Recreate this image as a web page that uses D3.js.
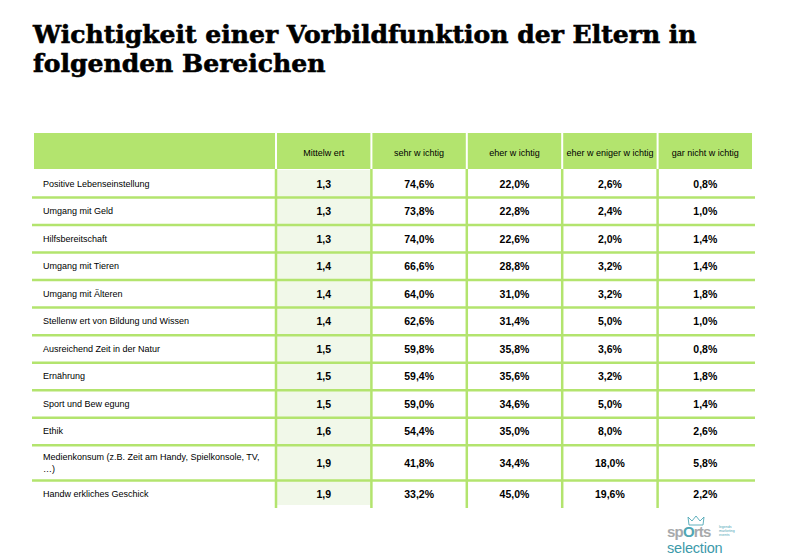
<!DOCTYPE html>
<html><head><meta charset="utf-8">
<script src="https://cdn.jsdelivr.net/npm/d3@7"></script>
<style>
html,body{margin:0;padding:0;background:#fff;}
svg{display:block;}
</style></head>
<body>
<svg id="chart" width="799" height="555"></svg>
<script>
// ---- data ----
const titleLines = ["Wichtigkeit einer Vorbildfunktion der Eltern in", "folgenden Bereichen"];
const columns = ["Mittelw ert", "sehr w ichtig", "eher w ichtig", "eher w eniger w ichtig", "gar nicht w ichtig"];
const categories = [
  "Positive Lebenseinstellung",
  "Umgang mit Geld",
  "Hilfsbereitschaft",
  "Umgang mit Tieren",
  "Umgang mit Älteren",
  "Stellenw ert von Bildung und Wissen",
  "Ausreichend Zeit in der Natur",
  "Ernährung",
  "Sport und Bew egung",
  "Ethik",
  "Medienkonsum (z.B. Zeit am Handy, Spielkonsole, TV,\n…)",
  "Handw erkliches Geschick"
];
const mittelwert   = [1.3, 1.3, 1.3, 1.4, 1.4, 1.4, 1.5, 1.5, 1.5, 1.6, 1.9, 1.9];
const sehrWichtig  = [74.6, 73.8, 74.0, 66.6, 64.0, 62.6, 59.8, 59.4, 59.0, 54.4, 41.8, 33.2];
const eherWichtig  = [22.0, 22.8, 22.6, 28.8, 31.0, 31.4, 35.8, 35.6, 34.6, 35.0, 34.4, 45.0];
const eherWeniger  = [2.6, 2.4, 2.0, 3.2, 3.2, 5.0, 3.6, 3.2, 5.0, 8.0, 18.0, 19.6];
const garNicht     = [0.8, 1.0, 1.4, 1.4, 1.8, 1.0, 0.8, 1.8, 1.4, 2.6, 5.8, 2.2];
const logoWords = ["legends", "marketing", "events"];

// ---- layout ----
const svg = d3.select("#chart");
const green = "#b3e46e";
const lightGreen = "#f1f8e9";
const fmt1 = v => v.toFixed(1).replace(".", ",");
const fmtPct = v => v.toFixed(1).replace(".", ",") + "%";

// title
const title = svg.append("g");
const tl = title.selectAll("text").data(titleLines).join("text")
  .attr("x", 33).attr("y", (d, i) => 43 + i * 28.5)
  .attr("font-family", "DejaVu Serif, Liberation Serif, serif")
  .attr("font-weight", "bold")
  .attr("font-size", 26)
  .attr("fill", "#000")
  .attr("stroke", "#000").attr("stroke-width", 0.6)
  .text(d => d);
const w0 = tl.nodes()[0].getComputedTextLength();
tl.attr("font-size", 26 * 664 / w0);

const tableLeft = 34, tableRight = 753, labelColRight = 276;
const headerTop = 133, headerBottom = 169, bodyTop = 170, bodyBottom = 508;

const x = d3.scaleBand().domain(columns).range([labelColRight, tableRight]).paddingInner(0).paddingOuter(0);

// rows: height units based on number of label lines
const rowLines = categories.map(c => c.split("\n").length);
const units = rowLines.map(n => 1 + 0.28 * (n - 1));
const cum = [0]; units.forEach(u => cum.push(cum[cum.length - 1] + u));
const y = d3.scaleLinear().domain([0, cum[cum.length - 1]]).range([bodyTop, bodyBottom]);

const rows = categories.map((c, i) => ({
  label: c, top: y(cum[i]), bottom: y(cum[i + 1]),
  vals: [fmt1(mittelwert[i]), fmtPct(sehrWichtig[i]), fmtPct(eherWichtig[i]), fmtPct(eherWeniger[i]), fmtPct(garNicht[i])]
}));

// header cells
const hdr = svg.append("g");
hdr.append("rect").attr("x", tableLeft).attr("y", headerTop)
  .attr("width", labelColRight - 1 - tableLeft).attr("height", headerBottom - headerTop).attr("fill", green);
hdr.selectAll("rect.h").data(columns).join("rect").attr("class", "h")
  .attr("x", d => x(d) + 1).attr("y", headerTop)
  .attr("width", d => x.bandwidth() - 2).attr("height", headerBottom - headerTop).attr("fill", green);
hdr.selectAll("text").data(columns).join("text")
  .attr("x", d => x(d) + x.bandwidth() / 2).attr("y", 156)
  .attr("text-anchor", "middle")
  .attr("font-family", "Liberation Sans, Arial, sans-serif").attr("font-size", 9)
  .attr("fill", "#000").text(d => d);

// Mittelwert column background
svg.append("rect").attr("x", x(columns[0])).attr("y", bodyTop)
  .attr("width", x.bandwidth()).attr("height", bodyBottom - 3 - bodyTop).attr("fill", lightGreen);

// horizontal row lines
svg.append("g").selectAll("line").data(rows.slice(0, -1)).join("line")
  .attr("x1", 32).attr("x2", 755)
  .attr("y1", d => d.bottom).attr("y2", d => d.bottom)
  .attr("stroke", green).attr("stroke-width", 2.5);

// vertical column lines
svg.append("g").selectAll("line").data(columns).join("line")
  .attr("x1", d => x(d)).attr("x2", d => x(d))
  .attr("y1", headerBottom).attr("y2", bodyBottom)
  .attr("stroke", green).attr("stroke-width", 2.5);

// labels
const lbl = svg.append("g").selectAll("text").data(rows).join("text")
  .attr("font-family", "Liberation Sans, Arial, sans-serif").attr("font-size", 9).attr("fill", "#000");
lbl.each(function (d) {
  const lines = d.label.split("\n");
  const mid = (d.top + d.bottom) / 2;
  const lh = 11.5;
  const start = mid - (lines.length - 1) * lh / 2 + 3;
  d3.select(this).selectAll("tspan").data(lines).join("tspan")
    .attr("x", 43).attr("y", (l, j) => start + j * lh).text(l => l);
});

// values
const vg = svg.append("g");
rows.forEach(r => {
  vg.append("g").selectAll("text").data(r.vals).join("text")
    .attr("x", (v, j) => x(columns[j]) + x.bandwidth() / 2)
    .attr("y", (r.top + r.bottom) / 2 + 4)
    .attr("text-anchor", "middle")
    .attr("font-family", "Liberation Sans, Arial, sans-serif").attr("font-size", 10.5)
    .attr("font-weight", "bold").attr("fill", "#000")
    .text(v => v);
});

// logo
const logo = svg.append("g").attr("font-family", "Liberation Sans, Arial, sans-serif");
logo.append("path")
  .attr("d", "M689,525 L688,517 L692,521 L696,516 L700,521 L704,517 L703,525 Z")
  .attr("fill", "none").attr("stroke", "#4fa7b5").attr("stroke-width", 0.9);
logo.append("text").attr("x", 667).attr("y", 536.5).attr("font-size", 15).attr("font-weight", "bold")
  .attr("fill", "#a7a9ab").attr("letter-spacing", -0.8)
  .html('sp<tspan fill="#4fa7b5">O</tspan>rts');
logo.append("text").attr("x", 667).attr("y", 553).attr("font-size", 14.5)
  .attr("fill", "#3d9aaa").attr("letter-spacing", -0.2).text("selection");
logo.selectAll("text.s").data(logoWords).join("text").attr("class", "s")
  .attr("x", 719).attr("y", (d, i) => 528 + i * 3.8).attr("font-size", 3.6).attr("fill", "#4fa7b5").text(d => d);
</script>
</body></html>
